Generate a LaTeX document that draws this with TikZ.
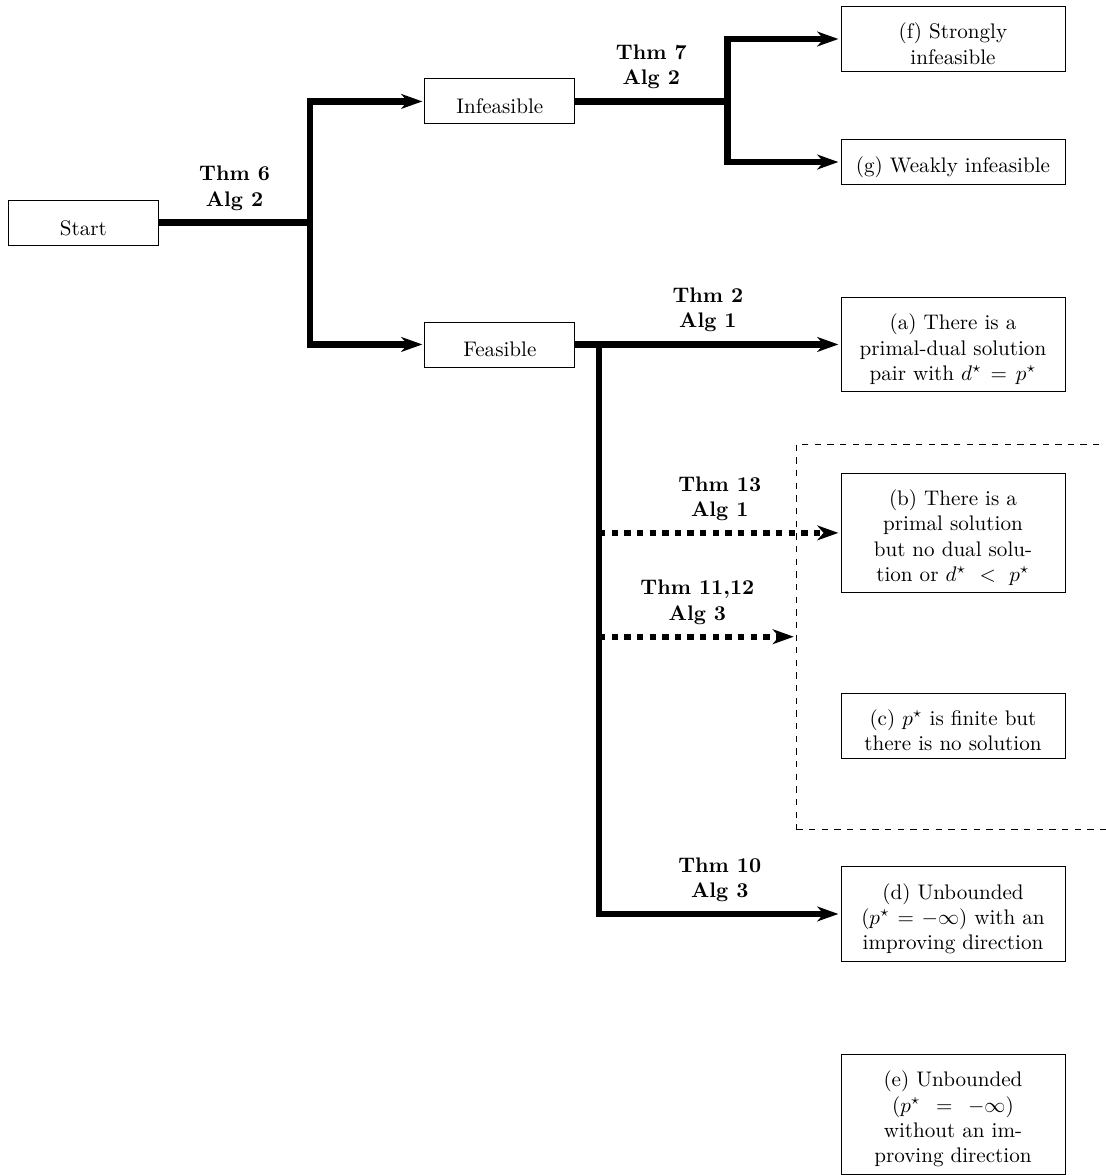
\documentclass[tikz,border=0pt]{standalone}
\usetikzlibrary{arrows.meta}

\begin{document}
\begin{tikzpicture}[>={Stealth[length=10pt,width=7pt,inset=3pt]},shorten >=1pt,line width=3pt,
		stagebox/.style={draw,thin,minimum width=2.5cm,minimum height=0.75cm,text height=12pt},
		casebox/.style={draw,thin,text width=3.5cm,minimum height=0.75cm,align=center,text height=12pt},
		thmlabel/.style={above=1pt,font=\bfseries,align=center}]

		\clip (0,0) rectangle (18.43,-19.58);

		\node at (1.39,-3.71) [stagebox] (Start) {Start};
		\node at (8.33,-1.69) [stagebox] (Infeasible) {Infeasible};
		\node at (8.33,-5.74) [stagebox] (Feasible) {Feasible};

		\node at (15.88,-10.61) [draw,thin,dashed,minimum width=5.22cm,minimum height=6.42cm] (Group) {};

		\node at (15.88,-0.65) [casebox] (StrongInf) {(f) Strongly\\infeasible};
		\node at (15.88,-2.70) [casebox] (WeakInf) {(g) Weakly infeasible};
		\node at (15.88,-5.74) [casebox] (CaseA) {(a) There is a primal-dual solution pair with $d^\star = p^\star$};
		\node at (15.88,-8.88) [casebox] (CaseB) {(b) There is a\\primal solution\\but no dual solu-\\tion or $d^\star \,<\, p^\star$};
		\node at (15.88,-12.09) [casebox] (CaseC) {(c) $p^\star$ is finite but there is no solution};
		\node at (15.88,-15.23) [casebox] (CaseD) {(d) Unbounded ($p^\star = -\infty$) with an improving direction};
		\node at (15.88,-18.57) [casebox] (CaseE) {(e) Unbounded\\($p^\star \,=\, -\infty$)\\without an im-\\proving direction};

		% branch points
		\coordinate (Fork1) at (5.17,-3.71);
		\coordinate (Fork2) at (12.12,-1.69);
		\coordinate (Trunk) at (9.98,-5.74);

		\draw (Start) -- node[thmlabel] {Thm 6\\Alg 2} (Fork1);
		\draw[->] (Fork1) |- (Infeasible);
		\draw[->] (Fork1) |- (Feasible);

		\draw (Infeasible) -- node[thmlabel] {Thm 7\\Alg 2} (Fork2);
		\draw[->] (Fork2) |- (StrongInf);
		\draw[->] (Fork2) |- (WeakInf);

		\draw[->] (Feasible) -- node[thmlabel] {Thm 2\\Alg 1} (CaseA);
		\draw[->] (Trunk) |- node[thmlabel,pos=0.75] {Thm 10\\Alg 3} (CaseD);
		\draw[->,dashed] (Trunk |- CaseB) -- node[thmlabel] {Thm 13\\Alg 1} (CaseB);
		\draw[->,dashed] (Trunk |- Group) -- node[thmlabel] {Thm 11,12\\Alg 3} (Group);
	\end{tikzpicture}
\end{document}
